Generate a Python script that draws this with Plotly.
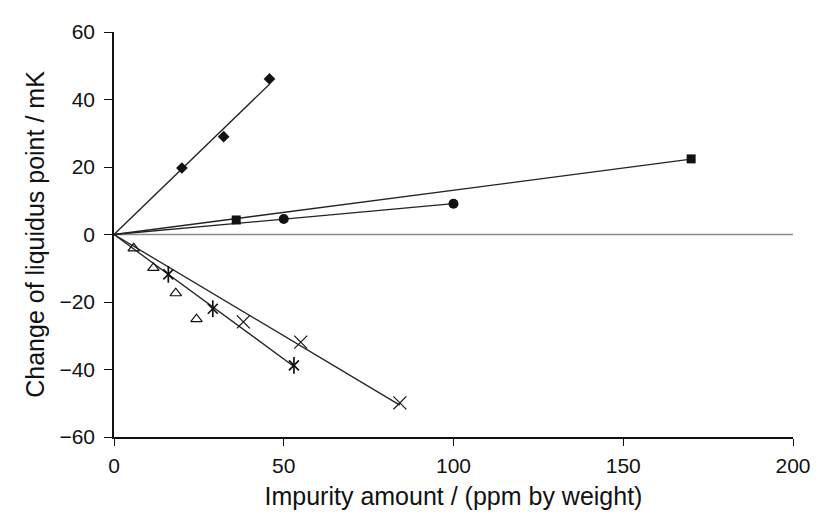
import numpy as np
import plotly.graph_objects as go

# ---- data ----
diamond_x = [20.0, 32.3, 45.8]
diamond_y = [19.7, 29.0, 46.1]
square_x = [36.0, 170.0]
square_y = [4.3, 22.4]
circle_x = [50.0, 100.0]
circle_y = [4.6, 9.1]
triangle_x = [5.8, 11.6, 18.2, 24.3]
triangle_y = [-4.1, -9.9, -17.4, -25.1]
asterisk_x = [16.0, 29.1, 53.0]
asterisk_y = [-11.8, -22.0, -38.8]
cross_x = [38.1, 55.0, 84.2]
cross_y = [-25.9, -31.9, -49.9]

x_ticks = [0, 50, 100, 150, 200]
y_ticks = [-60, -40, -20, 0, 20, 40, 60]

FONT = "Arial, 'Liberation Sans', Helvetica, sans-serif"
INK = "#111111"

fig = go.Figure()


def fit_line(xs, ys):
    xs = np.asarray(xs)
    ys = np.asarray(ys)
    k = float((xs * ys).sum() / (xs * xs).sum())
    lx = [0.0, float(xs.max())]
    return lx, [k * v for v in lx]


# zero line
fig.add_trace(go.Scatter(x=[x_ticks[0], x_ticks[-1]], y=[0, 0], mode="lines",
                         line=dict(color="#8a8a8a", width=1.5),
                         hoverinfo="skip", showlegend=False))

# fitted lines through origin
for xs, ys in [(diamond_x, diamond_y), (square_x, square_y), (circle_x, circle_y),
               (asterisk_x, asterisk_y), (cross_x, cross_y)]:
    lx, ly = fit_line(xs, ys)
    fig.add_trace(go.Scatter(x=lx, y=ly, mode="lines",
                             line=dict(color="#222222", width=1.3),
                             hoverinfo="skip", showlegend=False))

# markers
fig.add_trace(go.Scatter(x=diamond_x, y=diamond_y, mode="markers", name="diamond",
                         marker=dict(symbol="diamond", size=9, color=INK), showlegend=False))
fig.add_trace(go.Scatter(x=square_x, y=square_y, mode="markers", name="square",
                         marker=dict(symbol="square", size=9, color=INK), showlegend=False))
fig.add_trace(go.Scatter(x=circle_x, y=circle_y, mode="markers", name="circle",
                         marker=dict(symbol="circle", size=10, color=INK), showlegend=False))
fig.add_trace(go.Scatter(x=triangle_x, y=triangle_y, mode="markers", name="triangle",
                         marker=dict(symbol="triangle-up-open", size=10, color=INK,
                                     line=dict(width=1.2, color=INK)), showlegend=False))
fig.add_trace(go.Scatter(x=asterisk_x, y=asterisk_y, mode="markers", name="asterisk",
                         marker=dict(symbol="x-thin-open", size=10, color=INK,
                                     line=dict(width=1.7, color=INK)), showlegend=False))
fig.add_trace(go.Scatter(x=asterisk_x, y=asterisk_y, mode="markers", name="asterisk",
                         marker=dict(symbol="line-ns-open", size=12, color=INK,
                                     line=dict(width=1.7, color=INK)), showlegend=False))
fig.add_trace(go.Scatter(x=cross_x, y=cross_y, mode="markers", name="cross",
                         marker=dict(symbol="x-thin-open", size=13, color=INK,
                                     line=dict(width=1.2, color=INK)), showlegend=False))

fig.update_layout(
    width=815, height=514,
    margin=dict(l=106, r=25, t=15, b=85),
    paper_bgcolor="white", plot_bgcolor="white",
    font=dict(family=FONT, size=21, color="#111111"),
    xaxis=dict(range=[0, 200], tickvals=x_ticks, ticks="outside", ticklen=7,
               tickwidth=1.2, tickcolor="#111111", showline=True, linecolor="#111111",
               linewidth=1.5, showgrid=False, zeroline=False,
               tickfont=dict(size=21), ticklabelstandoff=2,
               title=dict(text="Impurity amount / (ppm by weight)",
                          font=dict(size=25), standoff=12)),
    yaxis=dict(range=[-60, 60], tickvals=y_ticks,
               ticktext=[("\u2212" + str(abs(v))) if v < 0 else str(v) for v in y_ticks],
               ticks="outside", ticklen=8, ticklabelstandoff=5,
               tickwidth=1.2, tickcolor="#111111", showline=True, linecolor="#111111",
               linewidth=1.5, showgrid=False, zeroline=False,
               tickfont=dict(size=21),
               title=dict(text="Change of liquidus point / mK",
                          font=dict(size=25), standoff=8)),
)

fig.write_html("out.html")
